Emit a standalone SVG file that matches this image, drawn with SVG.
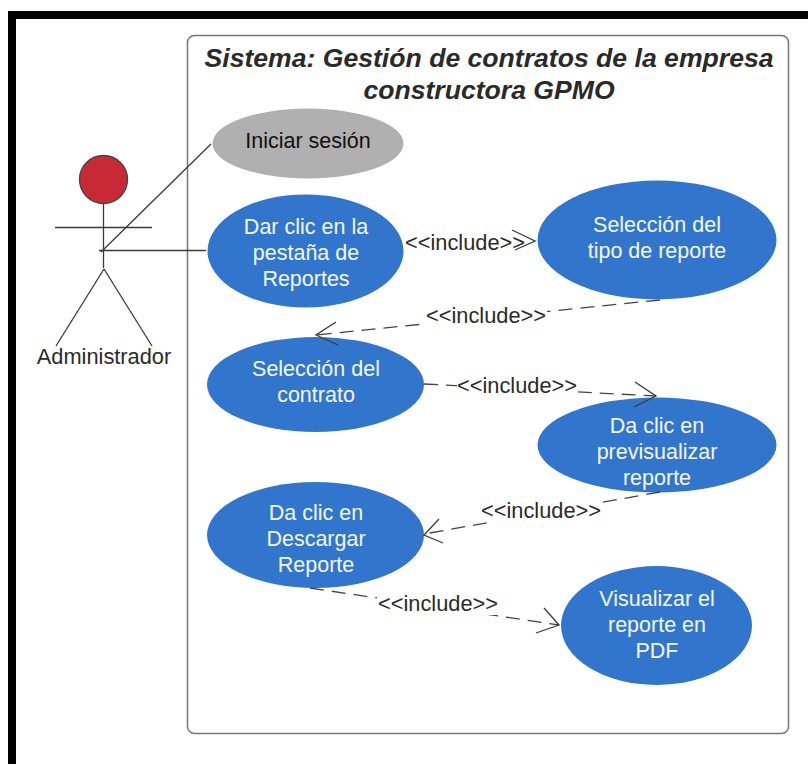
<svg xmlns="http://www.w3.org/2000/svg" width="808" height="764" viewBox="0 0 808 764">
<style>
text{font-family:"Liberation Sans",Arial,sans-serif;font-size:21.500px;text-anchor:middle}
.w{fill:#f4f8fd}
.d{fill:#2a2a2a}
.inc{font-size:21.800px}
.uc{fill:#3176cc}
.l{fill:none;stroke:#3a3a3a;stroke-width:1.300}
.dash{fill:none;stroke:#444;stroke-width:1.300;stroke-dasharray:14 8}
.bg{fill:#fff}
.title{font-size:26.600px;font-weight:bold;font-style:italic}
</style>
<rect width="808" height="764" fill="#fff"/>
<path d="M12 764V15H808" fill="none" stroke="#000" stroke-width="8"/>
<g id="system">
<rect x="187.500" y="35.500" width="601" height="698" rx="7" fill="#fff" stroke="#777" stroke-width="1.500"/>
<text x="489" y="67" class="title d">Sistema: Gestión de contratos de la empresa</text>
<text x="489" y="99" class="title d">constructora GPMO</text>
</g>
<g id="actor">
<circle cx="103.500" cy="179.500" r="24" fill="#c72a35" stroke="#444" stroke-width="1.300"/>
<path class="l" d="M103.500 204V268M55 227.500H152M104 269L56 346M104 269L152 346"/>
<text x="104" y="364" class="d" style="font-size:21.800px">Administrador</text>
</g>
<g id="uc-iniciar">
<ellipse cx="308" cy="143.500" rx="95.500" ry="35" fill="#b0b0b0"/>
<text x="308" y="148" fill="#111">Iniciar sesión</text>
</g>
<g id="uc-dar">
<ellipse cx="305.500" cy="251" rx="98" ry="56.500" class="uc"/>
<text x="306" y="234" class="w">Dar clic en la</text>
<text x="306" y="260" class="w">pestaña de</text>
<text x="306" y="286" class="w">Reportes</text>
</g>
<g id="uc-tipo">
<ellipse cx="657" cy="240" rx="119.500" ry="59.500" class="uc"/>
<text x="657" y="232" class="w">Selección del</text>
<text x="657" y="258" class="w">tipo de reporte</text>
</g>
<g id="uc-contrato">
<ellipse cx="315.500" cy="384.500" rx="108.500" ry="47.500" class="uc"/>
<text x="316" y="376" class="w">Selección del</text>
<text x="316" y="402" class="w">contrato</text>
</g>
<g id="uc-previsualizar">
<ellipse cx="657" cy="445" rx="119.500" ry="47.500" class="uc"/>
<text x="657" y="433" class="w">Da clic en</text>
<text x="657" y="459" class="w">previsualizar</text>
<text x="657" y="485" class="w">reporte</text>
</g>
<g id="uc-descargar">
<ellipse cx="315.500" cy="535" rx="108.500" ry="53" class="uc"/>
<text x="316" y="520" class="w">Da clic en</text>
<text x="316" y="546" class="w">Descargar</text>
<text x="316" y="572" class="w">Reporte</text>
</g>
<g id="uc-pdf">
<ellipse cx="656.500" cy="625.500" rx="95.500" ry="59.500" class="uc"/>
<text x="657" y="606" class="w">Visualizar el</text>
<text x="657" y="632" class="w">reporte en</text>
<text x="657" y="658" class="w">PDF</text>
</g>
<g id="connectors">
<path class="l" d="M211 144L101 252M99 250.500H206"/>
<path class="dash" d="M660 300L316 335"/>
<path class="l" d="M336 322L316 335L338 345"/>
<path class="dash" d="M424 384L656 396"/>
<path class="l" d="M635 382L656 396L634 407"/>
<path class="dash" d="M660 492L424 534"/>
<path class="l" d="M439 519L424 535L443 543"/>
<path class="dash" d="M310 588L559 625"/>
<path class="l" d="M544 608L559 625L536 633"/>
<path class="l" d="M512 230L535 241L515 250"/>
<rect x="425" y="305" width="122" height="22" class="bg"/>
<rect x="457" y="376" width="121" height="22" class="bg"/>
<rect x="480" y="500" width="122" height="22" class="bg"/>
<rect x="377" y="593" width="122" height="22" class="bg"/>
<text x="465" y="250" class="d inc">&lt;&lt;include&gt;&gt;</text>
<text x="486" y="323" class="d inc">&lt;&lt;include&gt;&gt;</text>
<text x="517" y="393" class="d inc">&lt;&lt;include&gt;&gt;</text>
<text x="541" y="518" class="d inc">&lt;&lt;include&gt;&gt;</text>
<text x="438" y="611" class="d inc">&lt;&lt;include&gt;&gt;</text>
</g>
</svg>
